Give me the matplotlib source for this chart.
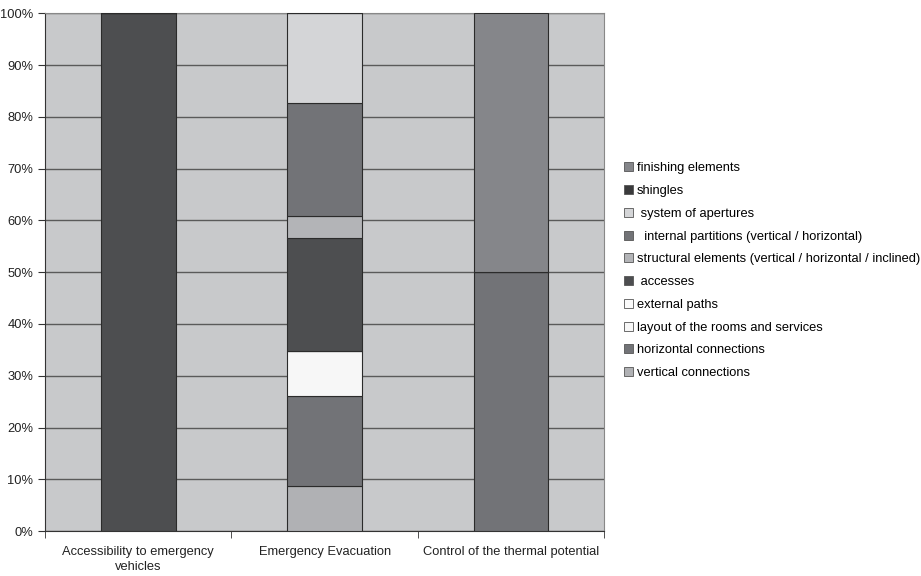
import matplotlib.pyplot as plt
import numpy as np
from matplotlib.ticker import FuncFormatter

plt.rcParams['font.family'] = ['Liberation Sans', 'DejaVu Sans']

categories = ["Accessibility to emergency\nvehicles", "Emergency Evacuation",
              "Control of the thermal potential"]

# series in stacking order (bottom to top)
series = ["vertical connections", "horizontal connections",
          "layout of the rooms and services", "external paths", " accesses",
          "structural elements (vertical / horizontal / inclined)",
          "  internal partitions (vertical / horizontal)",
          " system of apertures", "shingles", "finishing elements"]
# counts per category
values = [
    [0, 2, 0],
    [0, 4, 0],
    [0, 2, 0],
    [0, 0, 0],
    [1, 5, 0],
    [0, 1, 0],
    [0, 5, 1],
    [0, 4, 0],
    [0, 0, 0],
    [0, 0, 1],
]
colors = ["#b0b1b4", "#727377", "#f7f7f7", "#fbfbfb", "#4d4e50",
          "#b3b4b7", "#727377", "#d4d5d7", "#3a3a3c", "#85868a"]

data = np.array(values, dtype=float)
shares = data / data.sum(axis=0) * 100

fig = plt.figure(figsize=(9.21, 5.76), dpi=100)
ax = fig.add_axes([0.049, 0.078, 0.607, 0.899])
ax.set_facecolor("#c8c9cb")

x = np.arange(len(categories))
bottom = np.zeros(len(categories))
for name, row, c in zip(series, shares, colors):
    ax.bar(x, row, 0.4, bottom=bottom, color=c, edgecolor="#2b2b2b",
           linewidth=0.8, label=name, zorder=3)
    bottom += row

ax.set_xlim(-0.5, 2.5)
ax.set_ylim(0, 100)
ax.set_yticks(np.arange(0, 101, 10))
ax.yaxis.set_major_formatter(FuncFormatter(lambda v, p: f"{v:.0f}%"))
ax.grid(axis="y", color="#5a5a5a", linewidth=1.0, zorder=1)
ax.set_xticks(x)
ax.set_xticklabels(categories, fontsize=9.3, color="#222222", linespacing=1.25)
ax.set_xticks([-0.5, 0.5, 1.5, 2.5], minor=True)
ax.tick_params(axis="x", which="major", length=0, pad=11)
ax.tick_params(axis="x", which="minor", length=5, color="#333333")
ax.tick_params(axis="y", labelsize=9.3, length=5, color="#333333", labelcolor="#222222")
for s in ["left", "bottom"]:
    ax.spines[s].set_color("#333333")
for s in ["top", "right"]:
    ax.spines[s].set_color("#888888")

handles, labels = ax.get_legend_handles_labels()
leg = fig.legend(handles[::-1], labels[::-1], loc="center left",
                 bbox_to_anchor=(0.665, 0.53), frameon=False, fontsize=9.3,
                 handlelength=0.7, handleheight=0.7, handletextpad=0.3,
                 labelspacing=0.83)
for h in leg.legend_handles:
    h.set_edgecolor("#555555")
    h.set_linewidth(0.6)

fig.savefig("out.png", dpi=100)
